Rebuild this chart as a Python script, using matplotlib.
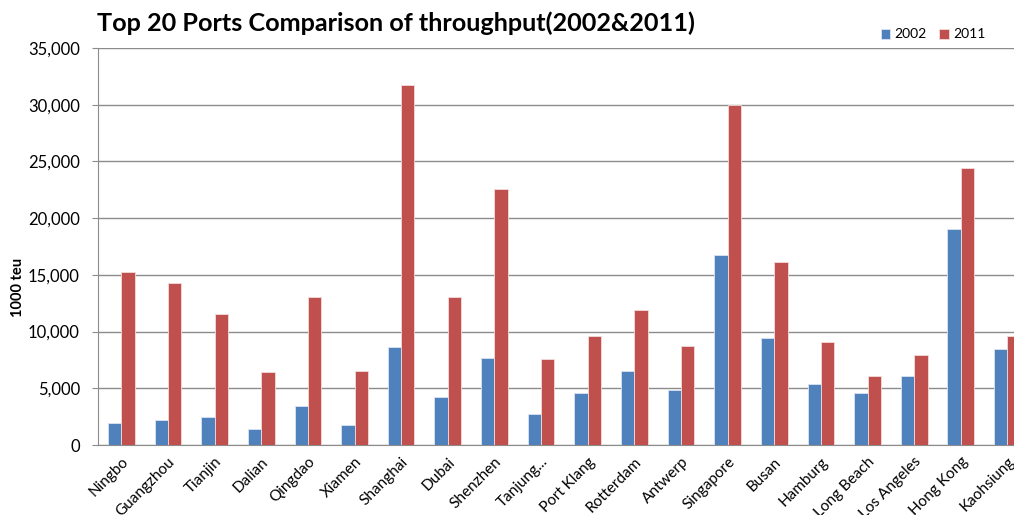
import numpy as np
import matplotlib
matplotlib.use('Agg')
import matplotlib.pyplot as plt
from matplotlib.ticker import FuncFormatter

plt.rcParams['font.family'] = ['Lato', 'DejaVu Sans']

PORTS = ['Ningbo', 'Guangzhou', 'Tianjin', 'Dalian', 'Qingdao', 'Xiamen', 'Shanghai',
         'Dubai', 'Shenzhen', 'Tanjung...', 'Port Klang', 'Rotterdam', 'Antwerp',
         'Singapore', 'Busan', 'Hamburg', 'Long Beach', 'Los Angeles', 'Hong Kong',
         'Kaohsiung']
TEU_2002 = [1940, 2200, 2470, 1410, 3440, 1760, 8640, 4230, 7670, 2730,
            4590, 6530, 4850, 16760, 9460, 5380, 4560, 6110, 19050, 8500]
TEU_2011 = [15260, 14290, 11550, 6440, 13050, 6530, 31750, 13050, 22580, 7590,
            9610, 11900, 8730, 29990, 16140, 9060, 6110, 7940, 24430, 9640]
YTICKS = [0, 5000, 10000, 15000, 20000, 25000, 30000, 35000]

BLUE = '#4F81BD'
RED = '#C0504D'


def main():
    fig = plt.figure(figsize=(10.14, 5.15), dpi=100)
    ax = fig.add_axes([98 / 1014, 1 - 445 / 515, 1 - 98 / 1014, (445 - 48) / 515])

    x = np.arange(len(PORTS))
    w = 0.286
    ax.bar(x - w / 2, TEU_2002, width=w, color=BLUE, edgecolor='#dbe5f1', linewidth=0.6,
           label='2002', zorder=3)
    ax.bar(x + w / 2, TEU_2011, width=w, color=RED, edgecolor='#f2dcdb', linewidth=0.6,
           label='2011', zorder=3)

    ax.set_xlim(-0.5, 19.14)
    ax.set_ylim(0, 35000)
    ax.set_yticks(YTICKS)
    ax.yaxis.set_major_formatter(FuncFormatter(lambda v, p: '{:,.0f}'.format(v)))
    ax.grid(axis='y', color='#8c8c8c', linewidth=1.0, zorder=0)
    ax.set_axisbelow(True)

    ax.set_xticks(x)
    ax.set_xticklabels(PORTS, rotation=45, ha='right', rotation_mode='anchor', fontsize=11)
    ax.tick_params(axis='x', length=0, pad=7)
    ax.tick_params(axis='y', length=4, color='#8c8c8c', labelsize=12, pad=9)

    for s in ['top', 'right']:
        ax.spines[s].set_visible(False)
    for s in ['left', 'bottom']:
        ax.spines[s].set_color('#8c8c8c')

    fig.text(97 / 1014, 1 - 23 / 515, 'Top 20 Ports Comparison of throughput(2002&2011)',
             fontsize=18.2, fontweight='bold', va='center', ha='left')
    fig.text(18 / 1014, 1 - 287 / 515, '1000 teu', rotation=90, fontsize=10.5,
             fontweight='bold', va='center', ha='center')

    ax.legend(loc='upper left', bbox_to_anchor=(868 / 1014, 1 - 16 / 515),
              bbox_transform=fig.transFigure, ncol=2, frameon=False, fontsize=10,
              handlelength=0.7, handleheight=0.7, handletextpad=0.3, columnspacing=0.9)

    fig.savefig('out.png', dpi=100)


if __name__ == '__main__':
    main()
